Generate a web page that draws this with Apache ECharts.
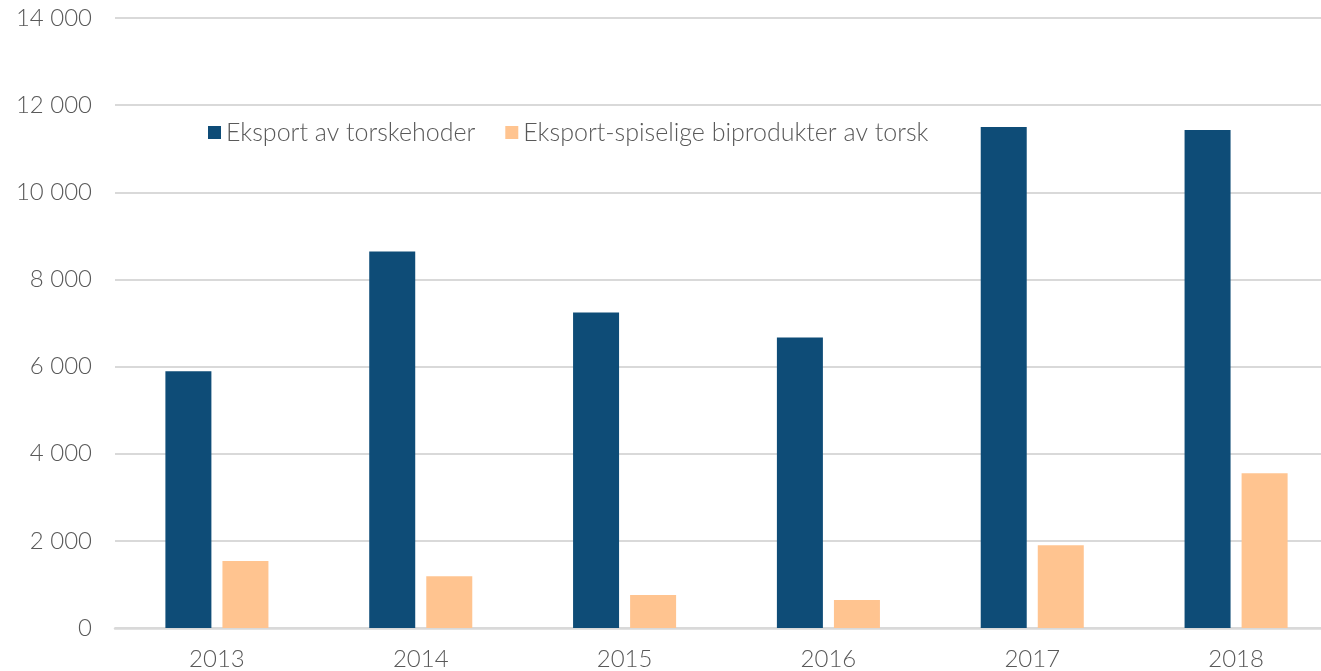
<!DOCTYPE html>
<html>
<head>
<meta charset="utf-8">
<script src="https://cdn.jsdelivr.net/npm/echarts@6/dist/echarts.min.js"></script>
<style>
  html, body { margin: 0; padding: 0; background: #fff; overflow: hidden; }
  #chart { width: 1338px; height: 671px; }
</style>
</head>
<body>
<div id="chart"></div>
<script>
const years = ['2013', '2014', '2015', '2016', '2017', '2018']
const torskehoder = [5890, 8640, 7240, 6670, 11500, 11430]
const biprodukter = [1540, 1190, 760, 640, 1900, 3550]
const seriesNames = ['Eksport av torskehoder', 'Eksport-spiselige biprodukter av torsk']

const textColor = '#595959'
const lineColor = '#d9d9d9'
const font = 'Lato'

const chart = echarts.init(document.getElementById('chart'))

// 14000 -> "14 000"
const fmt = v => {
  const s = String(v)
  return s.length > 3 ? s.slice(0, -3) + ' ' + s.slice(-3) : s
}

chart.setOption({
  animation: false,
  textStyle: { fontFamily: font },
  legend: {
    data: seriesNames,
    left: 208,
    top: 120,
    padding: 0,
    itemWidth: 13,
    itemHeight: 13,
    itemGap: 30,
    icon: 'rect',
    textStyle: { color: textColor, fontSize: 25, fontWeight: 300, fontFamily: font }
  },
  grid: {
    left: 115,
    right: 0,
    top: 18,
    bottom: 42
  },
  xAxis: {
    type: 'category',
    data: years,
    axisLine: { lineStyle: { color: lineColor, width: 2.5 } },
    axisTick: { show: false },
    axisLabel: { color: textColor, fontSize: 24, fontWeight: 300, margin: 19 }
  },
  yAxis: {
    type: 'value',
    min: 0,
    max: 14000,
    interval: 2000,
    axisLine: { show: false },
    axisTick: { show: false },
    axisLabel: { color: textColor, fontSize: 24, fontWeight: 300, margin: 23, formatter: fmt },
    splitLine: { lineStyle: { color: lineColor, width: 2 } }
  },
  series: [
    {
      name: seriesNames[0],
      type: 'bar',
      data: torskehoder,
      barWidth: 46,
      barGap: '24%',
      itemStyle: { color: '#0e4c77' }
    },
    {
      name: seriesNames[1],
      type: 'bar',
      data: biprodukter,
      barWidth: 46,
      itemStyle: { color: '#ffc490' }
    }
  ]
})
</script>
</body>
</html>
